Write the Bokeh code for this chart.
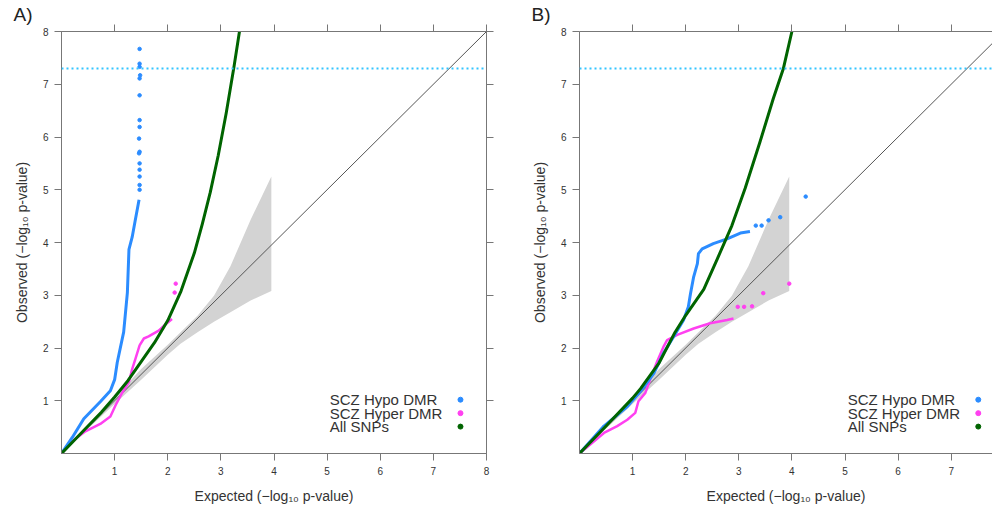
from bokeh.plotting import figure
from bokeh.models import LinearAxis, FixedTicker, Range1d, Span
from bokeh.layouts import row
from bokeh.embed import file_html
from bokeh.resources import INLINE
from bokeh.core.properties import value

# ---------------- data ----------------
ticks = [1, 2, 3, 4, 5, 6, 7, 8]
axis_max = 8
gw_threshold = 7.30

legend_labels = ["SCZ Hypo DMR", "SCZ Hyper DMR", "All SNPs"]
legend_colors = ["#2b8cff", "#ff40f0", "#006400"]

# Confidence band (expected order statistics)
band_x = [0, 0.5, 1.0, 1.5, 2.0, 2.24, 2.56, 2.87, 3.18, 3.56, 3.95]
band_upper = [0, 0.53, 1.06, 1.60, 2.06, 2.30, 2.61, 2.99, 3.55, 4.43, 5.25]
band_lower = [0, 0.47, 0.94, 1.40, 1.87, 2.08, 2.30, 2.50, 2.68, 2.90, 3.08]

# Panel A
A_snp_x = [0, 0.25, 0.5, 0.75, 1.0, 1.25, 1.5, 1.75, 2.0, 2.25, 2.5, 2.65, 2.8, 2.95, 3.1, 3.25, 3.35]
A_snp_y = [0, 0.26, 0.52, 0.78, 1.07, 1.38, 1.74, 2.10, 2.52, 3.08, 3.80, 4.35, 4.95, 5.65, 6.45, 7.35, 8.0]

A_hypo_x = [0, 0.2, 0.42, 0.73, 0.92, 1.0, 1.05, 1.17, 1.24, 1.27, 1.33, 1.39, 1.46]
A_hypo_y = [0, 0.30, 0.66, 0.98, 1.19, 1.40, 1.73, 2.30, 3.05, 3.87, 4.10, 4.43, 4.81]
A_hypo_pts_x = [1.47, 1.47, 1.47, 1.47, 1.47, 1.46, 1.47, 1.46, 1.47, 1.47, 1.47, 1.47, 1.48, 1.47, 1.47, 1.47]
A_hypo_pts_y = [5.00, 5.09, 5.25, 5.38, 5.50, 5.69, 5.72, 5.97, 6.19, 6.32, 6.79, 7.11, 7.17, 7.33, 7.39, 7.67]

A_hyper_x = [0, 0.25, 0.45, 0.73, 0.92, 1.02, 1.14, 1.27, 1.33, 1.39, 1.47, 1.55, 1.64, 1.83, 1.96, 2.08]
A_hyper_y = [0, 0.27, 0.42, 0.56, 0.70, 0.92, 1.15, 1.36, 1.60, 1.79, 2.05, 2.18, 2.22, 2.33, 2.45, 2.55]
A_hyper_pts_x = [2.13, 2.15]
A_hyper_pts_y = [3.05, 3.22]

# Panel B
B_snp_x = [0, 0.5, 1.0, 1.15, 1.5, 1.8, 2.0, 2.34, 2.6, 2.87, 3.12, 3.40, 3.65, 3.84, 4.0]
B_snp_y = [0, 0.52, 1.05, 1.23, 1.72, 2.30, 2.62, 3.11, 3.70, 4.32, 5.03, 5.91, 6.73, 7.30, 8.0]

B_hypo_x = [0, 0.46, 0.90, 1.15, 1.40, 1.58, 1.77, 1.96, 2.05, 2.09, 2.15, 2.22, 2.24, 2.31, 2.52, 2.78, 3.03, 3.21]
B_hypo_y = [0, 0.52, 0.89, 1.18, 1.52, 1.90, 2.21, 2.53, 2.78, 3.03, 3.35, 3.60, 3.79, 3.88, 3.98, 4.07, 4.18, 4.21]
B_hypo_pts_x = [3.32, 3.43, 3.56, 3.78, 4.26]
B_hypo_pts_y = [4.32, 4.32, 4.42, 4.48, 4.87]

B_hyper_x = [0, 0.46, 0.71, 0.90, 1.05, 1.11, 1.24, 1.33, 1.46, 1.58, 1.65, 1.84, 2.15, 2.46, 2.78, 2.90]
B_hyper_y = [0, 0.39, 0.52, 0.64, 0.77, 0.99, 1.15, 1.40, 1.74, 2.02, 2.15, 2.25, 2.37, 2.47, 2.53, 2.56]
B_hyper_pts_x = [2.98, 3.10, 3.25, 3.46, 3.95]
B_hyper_pts_y = [2.78, 2.78, 2.79, 3.04, 3.22]

# ---------------- styling ----------------
FONT = "Liberation Sans"
AXIS_COL = "#777777"
LABEL_COL = "#333333"
FIG_H = 506


def style_axis(ax, show_labels=True):
    ax.ticker = FixedTicker(ticks=ticks)
    ax.minor_tick_line_color = None
    ax.major_tick_in = 0
    ax.major_tick_out = 7
    ax.major_tick_line_color = AXIS_COL
    ax.axis_line_color = AXIS_COL
    ax.major_label_text_font = FONT
    if show_labels:
        ax.major_label_text_font_size = "10px"
        ax.major_label_text_color = LABEL_COL
        ax.major_label_standoff = 6
    else:
        ax.major_label_text_font_size = "1px"
        ax.major_label_text_color = None
        ax.major_label_standoff = 0


def make_panel(tag, width, xend, mbl, mbr, snp, hypo, hypo_pts, hyper, hyper_pts, right_axis):
    p = figure(width=width, height=FIG_H, x_range=Range1d(0, xend), y_range=Range1d(0, axis_max),
               output_backend="svg", toolbar_location=None,
               min_border_left=mbl, min_border_right=mbr, min_border_top=31, min_border_bottom=51)
    p.grid.visible = False
    p.outline_line_color = AXIS_COL if right_axis else None
    p.background_fill_color = "white"
    p.border_fill_color = "white"

    p.title.text = tag
    p.title.text_font = FONT
    p.title.text_font_size = "19px"
    p.title.text_font_style = "normal"
    p.title.text_color = "#222222"
    p.title.align = "left"
    p.title.offset = -48
    p.title.standoff = 0

    style_axis(p.xaxis[0])
    style_axis(p.yaxis[0])
    p.xaxis.axis_label = "Expected (\u2212log\u2081\u2080 p-value)"
    p.yaxis.axis_label = "Observed (\u2212log\u2081\u2080 p-value)"
    for ax in (p.xaxis[0], p.yaxis[0]):
        ax.axis_label_text_font = FONT
        ax.axis_label_text_font_size = "14px"
        ax.axis_label_text_font_style = "normal"
        ax.axis_label_text_color = LABEL_COL
        ax.axis_label_standoff = 10
    p.yaxis.major_label_orientation = "horizontal"

    top = LinearAxis()
    style_axis(top, show_labels=False)
    p.add_layout(top, "above")
    if right_axis:
        rt = LinearAxis()
        style_axis(rt, show_labels=False)
        p.add_layout(rt, "right")

    # confidence band and diagonal
    p.varea(x=band_x, y1=band_lower, y2=band_upper, fill_color="#d3d3d3")
    p.line([0, axis_max], [0, axis_max], line_color="#555555", line_width=1)
    p.add_layout(Span(location=gw_threshold, dimension="width", line_color="#33c4ff",
                      line_dash="2 3", line_width=2))

    # series
    p.line(hyper[0], hyper[1], line_color=legend_colors[1], line_width=2.5, line_join="round")
    p.scatter(hyper_pts[0], hyper_pts[1], color=legend_colors[1], size=3.5)
    p.line(hypo[0], hypo[1], line_color=legend_colors[0], line_width=3, line_join="round")
    p.scatter(hypo_pts[0], hypo_pts[1], color=legend_colors[0], size=3.5)
    p.line(snp[0], snp[1], line_color=legend_colors[2], line_width=3, line_join="round")

    # legend (text left, marker right)
    leg_y = [1.02, 0.765, 0.51]
    p.text(x=[5.05] * 3, y=leg_y, text=legend_labels, text_font=value(FONT),
           text_font_size="15px", text_baseline="middle", text_align="left", text_color=LABEL_COL)
    p.scatter(x=[7.51] * 3, y=leg_y, color=legend_colors, size=5)
    return p


pA = make_panel("A)", 500, axis_max, 61, 14,
                (A_snp_x, A_snp_y), (A_hypo_x, A_hypo_y), (A_hypo_pts_x, A_hypo_pts_y),
                (A_hyper_x, A_hyper_y), (A_hyper_pts_x, A_hyper_pts_y), True)
pB = make_panel("B)", 492, 413 / 53.1, 79, 0,
                (B_snp_x, B_snp_y), (B_hypo_x, B_hypo_y), (B_hypo_pts_x, B_hypo_pts_y),
                (B_hyper_x, B_hyper_y), (B_hyper_pts_x, B_hyper_pts_y), False)

layout = row(pA, pB)
open("out.html", "w").write(file_html(layout, INLINE))
